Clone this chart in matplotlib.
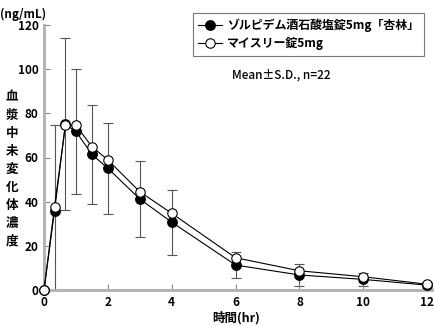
import matplotlib
matplotlib.use("Agg")
import matplotlib.pyplot as plt

plt.rcParams['font.family'] = ['Noto Sans CJK JP', 'DejaVu Sans']

time = [0, 0.33, 0.67, 1, 1.5, 2, 3, 4, 6, 8, 10, 12]
zolpidem = [0, 35.9, 75.0, 71.8, 61.4, 55.1, 41.2, 30.7, 11.3, 6.8, 4.8, 2.2]
zolpidem_sd = [0, 39.0, 38.9, 28.3, 22.5, 20.5, 17.3, 14.7, 5.8, 4.9, 3.0, 1.5]
myslee = [0, 37.8, 74.6, 74.6, 64.9, 58.9, 44.5, 34.7, 14.6, 8.7, 6.0, 2.6]

label_a = 'ゾルピデム酒石酸塩錠5mg「杏林」'
label_b = 'マイスリー錠5mg'
xticks = [0, 2, 4, 6, 8, 10, 12]
yticks = [0, 20, 40, 60, 80, 100, 120]

fig = plt.figure(figsize=(4.34, 3.26), dpi=100)
ax = fig.add_axes([44/434, 1-290/326, 388/434, 265/326])

ax.errorbar(time, zolpidem, yerr=zolpidem_sd, fmt='none', ecolor='#555555',
            elinewidth=0.8, capsize=3.5, capthick=0.8, zorder=1)
ax.plot(time, zolpidem, '-o', color='black', lw=0.8, ms=6.8, mfc='black', mec='black',
        label=label_a, zorder=3, clip_on=False)
ax.plot(time, myslee, '-o', color='black', lw=0.8, ms=6.8, mfc='white', mec='black',
        mew=0.8, label=label_b, zorder=4, clip_on=False)

ax.set_xlim(0, 12.15)
ax.set_ylim(0, 120)
ax.set_xticks(xticks)
ax.set_yticks(yticks)
for s in ['top', 'right']:
    ax.spines[s].set_visible(False)
for s in ['left', 'bottom']:
    ax.spines[s].set_color('#b4b4b4')
    ax.spines[s].set_linewidth(2.2)
ax.tick_params(direction='in', length=4, color='#888888', width=0.8,
               labelsize=8.5, pad=4)
for lab in ax.get_xticklabels() + ax.get_yticklabels():
    lab.set_fontweight('bold')

fig.text(0.0, 1-8/326, '(ng/mL)', fontsize=8.5, fontweight='bold', va='top', ha='left')
ylab = '血漿中未変化体濃度'
for i, ch in enumerate(ylab):
    fig.text(12/434, 1-(97+i*18)/326, ch, fontsize=9, fontweight='bold',
             ha='center', va='center')
fig.text(236/434, 1-318/326, '時間(hr)', fontsize=9, fontweight='bold',
         ha='center', va='center')
fig.text(232/434, 1-75/326, 'Mean±S.D., n=22', fontsize=8.5, fontweight='medium',
         ha='left', va='center')

leg = ax.legend(loc='upper left', bbox_to_anchor=(187/434, 1-7/326),
                bbox_transform=fig.transFigure, frameon=True, fancybox=False,
                edgecolor='#555555', handlelength=2.0,
                borderpad=0.45, labelspacing=0.45, handletextpad=0.4,
                prop={'weight': 'bold', 'size': 8.6})
leg.get_frame().set_linewidth(0.8)

fig.savefig('out.png', dpi=100)
